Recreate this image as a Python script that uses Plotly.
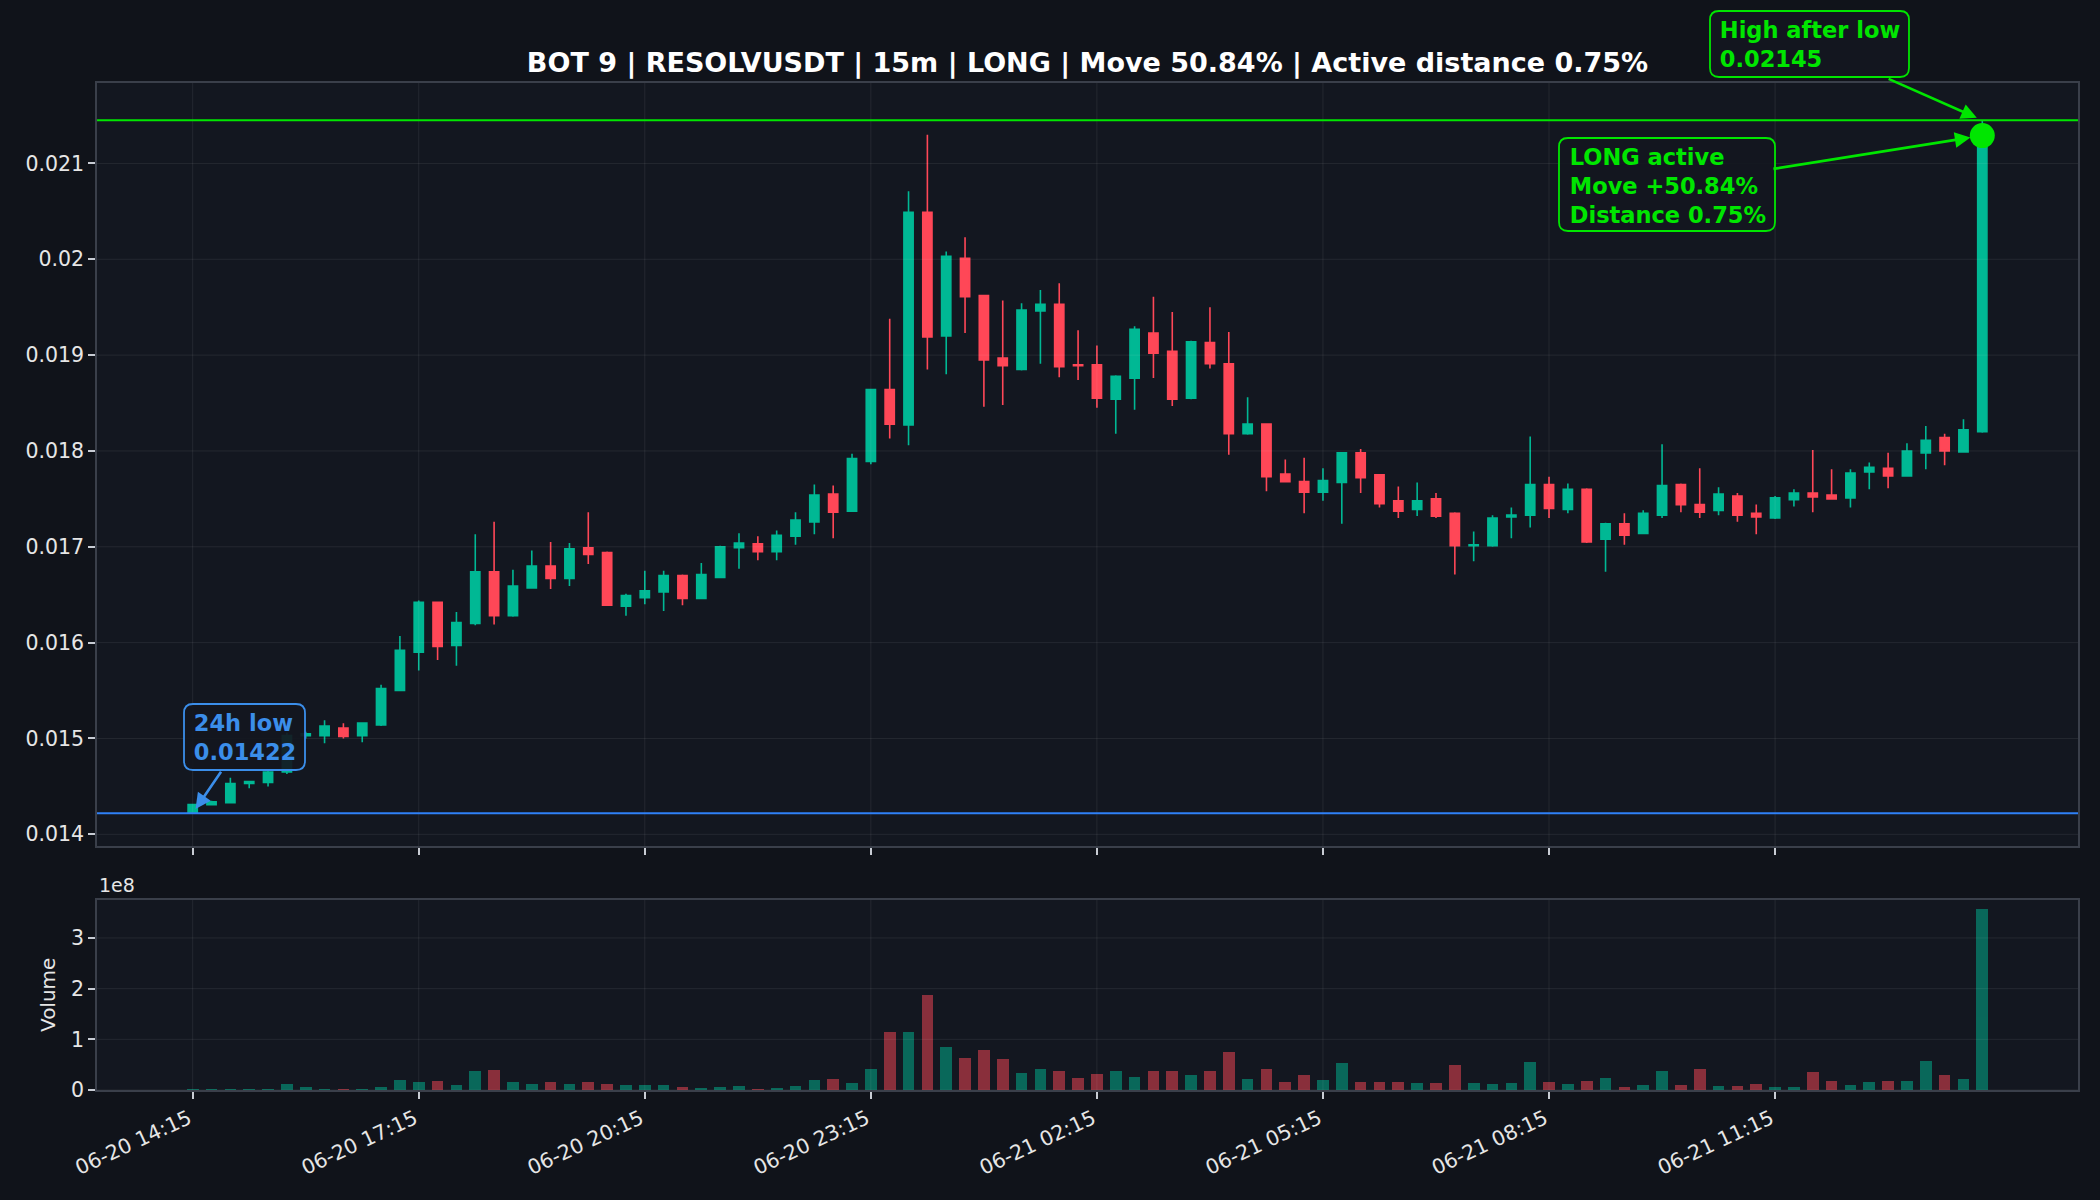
import plotly.graph_objects as go

# ---------------- data ----------------
opens = [0.01422, 0.01431, 0.01433, 0.01453, 0.01454, 0.01465, 0.01503, 0.01503, 0.01511, 0.01503,
         0.01514, 0.01550, 0.01590, 0.01642, 0.01597, 0.01620, 0.01674, 0.01628, 0.01657, 0.01680,
         0.01667, 0.01699, 0.01694, 0.01638, 0.01647, 0.01653, 0.01670, 0.01646, 0.01668, 0.01699,
         0.01703, 0.01695, 0.01711, 0.01726, 0.01755, 0.01737, 0.01789, 0.01864, 0.01827, 0.02049,
         0.01920, 0.02001, 0.01962, 0.01897, 0.01885, 0.01946, 0.01953, 0.01890, 0.01890, 0.01854,
         0.01876, 0.01923, 0.01904, 0.01855, 0.01913, 0.01891, 0.01818, 0.01828, 0.01776, 0.01768,
         0.01757, 0.01767, 0.01798, 0.01775, 0.01748, 0.01739, 0.01750, 0.01735, 0.01701, 0.01701,
         0.01731, 0.01733, 0.01765, 0.01739, 0.01760, 0.01708, 0.01724, 0.01714, 0.01733, 0.01765,
         0.01744, 0.01738, 0.01753, 0.01735, 0.01730, 0.01749, 0.01756, 0.01754, 0.01751, 0.01778,
         0.01782, 0.01774, 0.01798, 0.01814, 0.01799, 0.01820]
highs = [0.01431, 0.01435, 0.01459, 0.01456, 0.01466, 0.01506, 0.01507, 0.01519, 0.01516, 0.01517,
         0.01556, 0.01607, 0.01644, 0.01643, 0.01632, 0.01713, 0.01726, 0.01676, 0.01696, 0.01705,
         0.01704, 0.01736, 0.01695, 0.01651, 0.01675, 0.01675, 0.01671, 0.01683, 0.01701, 0.01714,
         0.01711, 0.01717, 0.01736, 0.01765, 0.01764, 0.01797, 0.01865, 0.01938, 0.02071, 0.02130,
         0.02008, 0.02023, 0.01963, 0.01957, 0.01954, 0.01968, 0.01975, 0.01926, 0.01910, 0.01879,
         0.01930, 0.01961, 0.01945, 0.01915, 0.01950, 0.01924, 0.01856, 0.01829, 0.01791, 0.01793,
         0.01782, 0.01799, 0.01802, 0.01776, 0.01763, 0.01767, 0.01756, 0.01736, 0.01716, 0.01733,
         0.01741, 0.01815, 0.01773, 0.01766, 0.01761, 0.01725, 0.01735, 0.01738, 0.01807, 0.01766,
         0.01782, 0.01762, 0.01756, 0.01744, 0.01753, 0.01760, 0.01801, 0.01781, 0.01781, 0.01788,
         0.01798, 0.01808, 0.01826, 0.01818, 0.01833, 0.02145]
lows = [0.01422, 0.01430, 0.01433, 0.01448, 0.01450, 0.01463, 0.01500, 0.01495, 0.01500, 0.01496,
        0.01513, 0.01550, 0.01571, 0.01582, 0.01576, 0.01618, 0.01619, 0.01627, 0.01657, 0.01656,
        0.01659, 0.01682, 0.01639, 0.01628, 0.01640, 0.01633, 0.01639, 0.01646, 0.01668, 0.01677,
        0.01686, 0.01686, 0.01702, 0.01713, 0.01709, 0.01737, 0.01786, 0.01813, 0.01806, 0.01885,
        0.01880, 0.01923, 0.01846, 0.01848, 0.01884, 0.01891, 0.01877, 0.01874, 0.01845, 0.01818,
        0.01843, 0.01876, 0.01847, 0.01854, 0.01886, 0.01796, 0.01817, 0.01758, 0.01767, 0.01735,
        0.01748, 0.01724, 0.01756, 0.01741, 0.01730, 0.01732, 0.01730, 0.01671, 0.01685, 0.01700,
        0.01709, 0.01720, 0.01730, 0.01735, 0.01704, 0.01674, 0.01702, 0.01713, 0.01730, 0.01736,
        0.01730, 0.01733, 0.01726, 0.01713, 0.01729, 0.01742, 0.01736, 0.01750, 0.01741, 0.01760,
        0.01761, 0.01774, 0.01781, 0.01785, 0.01799, 0.01819]
closes = [0.01431, 0.01434, 0.01453, 0.01455, 0.01465, 0.01503, 0.01505, 0.01513, 0.01502, 0.01516,
          0.01552, 0.01592, 0.01642, 0.01596, 0.01621, 0.01674, 0.01628, 0.01659, 0.01680, 0.01667,
          0.01698, 0.01692, 0.01639, 0.01649, 0.01654, 0.01670, 0.01646, 0.01671, 0.01700, 0.01704,
          0.01695, 0.01712, 0.01728, 0.01754, 0.01736, 0.01792, 0.01864, 0.01828, 0.02049, 0.01919,
          0.02003, 0.01961, 0.01895, 0.01889, 0.01947, 0.01953, 0.01888, 0.01889, 0.01855, 0.01878,
          0.01927, 0.01902, 0.01854, 0.01914, 0.01891, 0.01818, 0.01828, 0.01773, 0.01768, 0.01757,
          0.01769, 0.01798, 0.01772, 0.01745, 0.01737, 0.01748, 0.01732, 0.01701, 0.01702, 0.01730,
          0.01733, 0.01765, 0.01740, 0.01760, 0.01705, 0.01724, 0.01712, 0.01735, 0.01764, 0.01744,
          0.01736, 0.01755, 0.01733, 0.01731, 0.01751, 0.01756, 0.01752, 0.01750, 0.01777, 0.01783,
          0.01774, 0.01800, 0.01811, 0.01800, 0.01822, 0.02129]
volumes_1e8 = [0.005, 0.01, 0.03, 0.01, 0.03, 0.12, 0.05, 0.03, 0.01, 0.01,
               0.05, 0.20, 0.16, 0.18, 0.10, 0.375, 0.39, 0.16, 0.12, 0.16,
               0.12, 0.16, 0.12, 0.10, 0.10, 0.10, 0.06, 0.04, 0.06, 0.08,
               0.01, 0.04, 0.08, 0.20, 0.22, 0.14, 0.41, 1.14, 1.14, 1.87,
               0.85, 0.63, 0.79, 0.61, 0.34, 0.41, 0.375, 0.24, 0.32, 0.375,
               0.26, 0.375, 0.375, 0.30, 0.375, 0.75, 0.22, 0.41, 0.16, 0.30,
               0.20, 0.53, 0.16, 0.16, 0.16, 0.14, 0.14, 0.49, 0.14, 0.12,
               0.14, 0.55, 0.16, 0.12, 0.18, 0.24, 0.06, 0.10, 0.375, 0.10,
               0.41, 0.08, 0.08, 0.12, 0.06, 0.06, 0.355, 0.18, 0.10, 0.16,
               0.18, 0.18, 0.57, 0.30, 0.22, 3.57]
volumes = [v * 1e8 for v in volumes_1e8]

tick_positions = [0, 12, 24, 36, 48, 60, 72, 84]
tick_labels = ["06-20 14:15", "06-20 17:15", "06-20 20:15", "06-20 23:15",
               "06-21 02:15", "06-21 05:15", "06-21 08:15", "06-21 11:15"]
price_ticks = [0.014, 0.015, 0.016, 0.017, 0.018, 0.019, 0.020, 0.021]
price_tick_text = ["0.014", "0.015", "0.016", "0.017", "0.018", "0.019", "0.02", "0.021"]
vol_ticks = [0, 1e8, 2e8, 3e8]
vol_tick_text = ["0", "1", "2", "3"]

low_24h = 0.01422
high_after_low = 0.02145
low_index = 0
title_text = "BOT 9 | RESOLVUSDT | 15m | LONG | Move 50.84% | Active distance 0.75%"

# ---------------- style ----------------
GREEN = "#00b894"
RED = "#ff4757"
LIME = "#00e600"
BLUE = "#2f81f7"
BLUE_TXT = "#3b8eea"
PAPER = "#10131a"
PLOT = "#131720"
GRID = "rgba(255,255,255,0.075)"
SPINE = "#3a3f4a"
TXT = "#e6e6e6"
FONT = "DejaVu Sans"
BOXFILL = "rgba(19,23,32,0.92)"

# page geometry (pixels)
W, H = 2100, 1200
ML, MR, MT, MB = 97, 22, 83, 110
PW, PH = W - ML - MR, H - MT - MB


def to_paper(px, py):
    return (px - ML) / PW, (H - MB - py) / PH


def rounded_box(x0, y0, x1, y1, r=9):
    pts = [("M", (x0 + r, y0)), ("L", (x1 - r, y0)), ("Q", (x1, y0), (x1, y0 + r)),
           ("L", (x1, y1 - r)), ("Q", (x1, y1), (x1 - r, y1)), ("L", (x0 + r, y1)),
           ("Q", (x0, y1), (x0, y1 - r)), ("L", (x0, y0 + r)), ("Q", (x0, y0), (x0 + r, y0))]
    out = []
    for item in pts:
        cmd = item[0]
        coords = " ".join("%.5f,%.5f" % to_paper(*p) for p in item[1:])
        out.append(cmd + coords)
    return " ".join(out) + " Z"


idx = list(range(len(opens)))
vol_colors = [GREEN if c >= o else RED for o, c in zip(opens, closes)]

fig = go.Figure()
fig.add_trace(go.Candlestick(
    x=idx, open=opens, high=highs, low=lows, close=closes,
    increasing=dict(line=dict(color=GREEN, width=1.6), fillcolor=GREEN),
    decreasing=dict(line=dict(color=RED, width=1.6), fillcolor=RED),
    whiskerwidth=0, showlegend=False, hoverinfo="skip",
    xaxis="x", yaxis="y"))
fig.add_trace(go.Bar(
    x=idx, y=volumes, marker=dict(color=vol_colors, line=dict(width=0)),
    opacity=0.5, width=0.62, showlegend=False, hoverinfo="skip",
    xaxis="x2", yaxis="y2"))

# grid drawn above the marks (as in the reference)
for yv in price_ticks:
    fig.add_shape(type="line", xref="x domain", yref="y", x0=0, x1=1, y0=yv, y1=yv,
                  layer="above", line=dict(color=GRID, width=1))
for yv in vol_ticks:
    fig.add_shape(type="line", xref="x2 domain", yref="y2", x0=0, x1=1, y0=yv, y1=yv,
                  layer="above", line=dict(color=GRID, width=1))
for xv in tick_positions:
    fig.add_shape(type="line", xref="x", yref="y domain", x0=xv, x1=xv, y0=0, y1=1,
                  layer="above", line=dict(color=GRID, width=1))
    fig.add_shape(type="line", xref="x2", yref="y2 domain", x0=xv, x1=xv, y0=0, y1=1,
                  layer="above", line=dict(color=GRID, width=1))

fig.add_shape(type="line", xref="x domain", yref="y", x0=0, x1=1,
              y0=high_after_low, y1=high_after_low, layer="above", line=dict(color=LIME, width=2))
fig.add_shape(type="line", xref="x domain", yref="y", x0=0, x1=1,
              y0=low_24h, y1=low_24h, layer="above", line=dict(color=BLUE, width=2))

fig.add_trace(go.Scatter(
    x=[idx[-1]], y=[closes[-1]], mode="markers",
    marker=dict(size=25, color=LIME), showlegend=False, hoverinfo="skip",
    xaxis="x", yaxis="y"))

# rounded annotation boxes (pixel frames converted to paper coordinates)
for (bx0, by0, bx1, by1), col in [((184, 704, 305, 770), BLUE_TXT),
                                  ((1710, 11, 1909, 77), LIME),
                                  ((1559, 138, 1775, 231), LIME)]:
    fig.add_shape(type="path", xref="paper", yref="paper", layer="above",
                  path=rounded_box(bx0, by0, bx1, by1),
                  fillcolor=BOXFILL, line=dict(color=col, width=1.8))

xr = [-5.08, 100.08]
axis_common = dict(showgrid=False, showline=True, mirror=True,
                   linecolor=SPINE, linewidth=1.5, zeroline=False, ticks="outside",
                   ticklen=7, tickwidth=1.6, tickcolor="#c8ccd4",
                   tickfont=dict(family=FONT, size=20.5, color=TXT))

fig.update_layout(
    width=W, height=H,
    paper_bgcolor=PAPER, plot_bgcolor=PLOT,
    margin=dict(l=ML, r=MR, t=MT, b=MB),
    showlegend=False,
    title=dict(text="<b>" + title_text + "</b>", x=0.5, xref="paper", xanchor="center",
               y=1 - 63 / H, yref="container", yanchor="middle",
               font=dict(family=FONT, size=27, color="#ffffff")),
    xaxis=dict(domain=[0, 1], range=xr, anchor="y", tickvals=tick_positions,
               showticklabels=False, rangeslider=dict(visible=False), **axis_common),
    yaxis=dict(domain=[0.2423, 1], range=[0.013878, 0.021839], anchor="x",
               tickvals=price_ticks, ticktext=price_tick_text, **axis_common),
    xaxis2=dict(domain=[0, 1], range=xr, anchor="y2", matches="x", tickvals=tick_positions,
                ticktext=tick_labels, tickangle=-25, ticklabelshift=-4, **axis_common),
    yaxis2=dict(domain=[0, 0.1887], range=[0, 3.75e8], anchor="x2",
                tickvals=vol_ticks, ticktext=vol_tick_text, **axis_common),
    bargap=0,
)

ann_font = dict(family=FONT, size=22.5)
common_ann = dict(xref="x", yref="y", align="left", showarrow=True, axref="pixel", ayref="pixel",
                  arrowhead=2, arrowsize=1.2, arrowwidth=2.6,
                  bgcolor="rgba(0,0,0,0)", bordercolor="rgba(0,0,0,0)", borderwidth=1.8,
                  borderpad=6)
fig.add_annotation(
    x=idx[-1], y=high_after_low,
    text="<b>High after low<br>%.5f</b>" % high_after_low,
    font=dict(color=LIME, **ann_font), ax=-172, ay=-76, arrowcolor=LIME, standoff=6,
    **common_ann)
fig.add_annotation(
    x=idx[-1], y=closes[-1],
    text="<b>LONG active<br>Move +50.84%<br>Distance 0.75%</b>",
    font=dict(color=LIME, **ann_font), ax=-314, ay=50, arrowcolor=LIME, standoff=12,
    **common_ann)
fig.add_annotation(
    x=low_index, y=low_24h,
    text="<b>24h low<br>%.5f</b>" % low_24h,
    font=dict(color=BLUE_TXT, **ann_font), ax=52, ay=-76, arrowcolor=BLUE_TXT, standoff=5,
    **common_ann)

fig.add_annotation(x=0, y=(H - MB - 885) / PH, xref="paper", yref="paper",
                   text="1e8", showarrow=False, xanchor="left", yanchor="middle",
                   font=dict(family=FONT, size=19, color=TXT))
fig.add_annotation(x=(48 - ML) / PW, y=(H - MB - 995) / PH, xref="paper", yref="paper",
                   text="Volume", showarrow=False, textangle=-90, xanchor="center",
                   yanchor="middle", font=dict(family=FONT, size=20, color=TXT))

fig.write_html("out.html")
